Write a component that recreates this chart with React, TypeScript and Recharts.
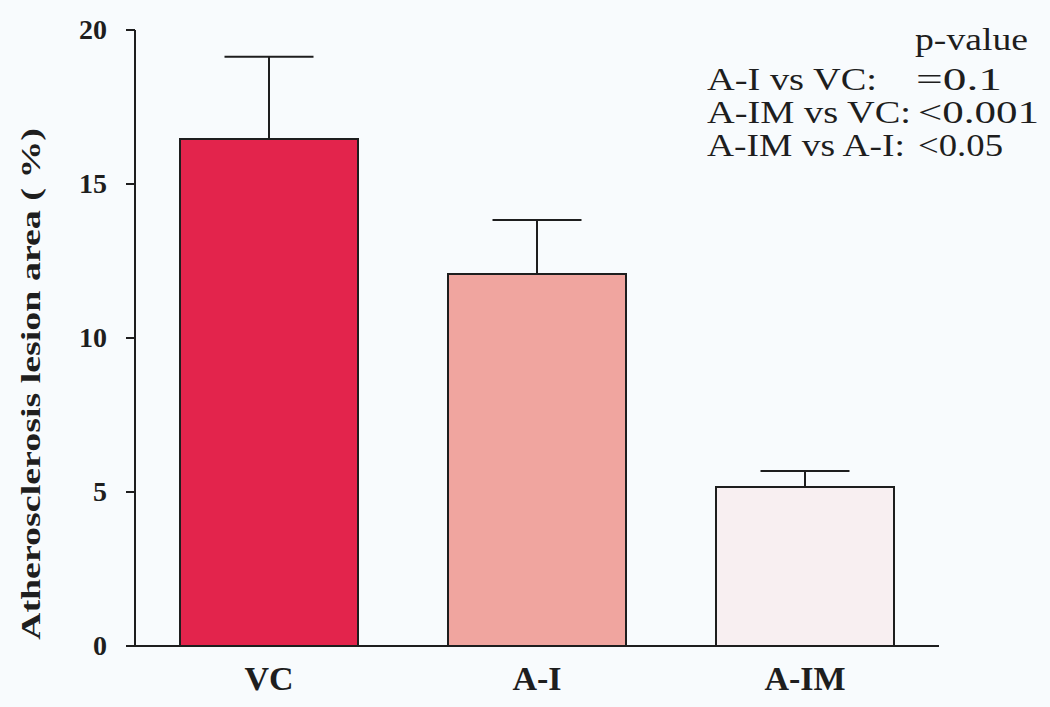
import React from 'react';
import { BarChart, Bar, XAxis, YAxis, ErrorBar, Cell } from 'recharts';

const categories = ['VC', 'A-I', 'A-IM'];
const means = [16.46, 12.08, 5.16];
const upperErrors = [2.67, 1.75, 0.52];
const barColors = ['#e3244c', '#f0a59f', '#f8eff1'];
const yTicks = [0, 5, 10, 15, 20];
const pHeader = 'p-value';
const pComparisons = ['A-I vs VC:', 'A-IM vs VC:', 'A-IM vs A-I:'];
const pValues = ['=0.1', '<0.001', '<0.05'];
const yLabel = 'Atherosclerosis lesion area ( %)';

const data = categories.map((c, i) => ({ name: c, value: means[i], err: [0, upperErrors[i]] }));

const FONT = '"Liberation Serif", "Times New Roman", serif';
const INK = '#1e1e1e';

// text widths measured in the reference (layout only)
const compWidths = [170, 204, 198];
const valueWidths = [86, 121, 85];
const valueX = [916, 918, 918];

const YTick = (props: any) => {
  const { x, y, payload } = props;
  return (
    <text x={x} y={y + 3} textAnchor="end" dominantBaseline="middle" fontFamily={FONT} fontWeight="bold" fontSize={28} fill={INK}>
      {payload.value}
    </text>
  );
};

const XTick = (props: any) => {
  const { x, payload } = props;
  return (
    <text x={x} y={690} textAnchor="middle" fontFamily={FONT} fontWeight="bold" fontSize={34} fill={INK}>
      {payload.value}
    </text>
  );
};

const YLabel = () => (
  <text
    x={0}
    y={0}
    transform="translate(40,384) rotate(-90)"
    textAnchor="middle"
    fontFamily={FONT}
    fontWeight="bold"
    fontSize={28}
    fill={INK}
    textLength={512}
    lengthAdjust="spacingAndGlyphs"
  >
    {yLabel}
  </text>
);

export default function App() {
  return (
    <div style={{ position: 'absolute', left: 0, top: 0, width: 1050, height: 707, background: '#f8fbfd' }}>
      <BarChart
        width={1050}
        height={707}
        data={data}
        margin={{ top: 30, right: 111, bottom: 21, left: 75 }}
      >
        <XAxis
          dataKey="name"
          height={40}
          tickLine={false}
          axisLine={{ stroke: INK, strokeWidth: 2 }}
          tick={<XTick />}
          interval={0}
        />
        <YAxis
          width={60}
          domain={[0, 20]}
          ticks={yTicks}
          tickSize={9}
          tickMargin={19}
          axisLine={{ stroke: INK, strokeWidth: 2 }}
          tickLine={{ stroke: INK, strokeWidth: 2 }}
          tick={<YTick />}
          label={<YLabel />}
        />
        <Bar dataKey="value" barSize={178} stroke={INK} strokeWidth={2} isAnimationActive={false}>
          {data.map((d, i) => (
            <Cell key={d.name} fill={barColors[i]} />
          ))}
          <ErrorBar dataKey="err" direction="y" width={44.5} stroke={INK} strokeWidth={2} isAnimationActive={false} />
        </Bar>
      </BarChart>
      <svg width={1050} height={707} style={{ position: 'absolute', left: 0, top: 0, pointerEvents: 'none' }}>
        <text x={915} y={50} fontFamily={FONT} fontSize={31} fill={INK} textLength={113} lengthAdjust="spacingAndGlyphs">{pHeader}</text>
        {pComparisons.map((c, i) => (
          <text key={c} x={707} y={90 + i * 33} fontFamily={FONT} fontSize={31} fill={INK} textLength={compWidths[i]} lengthAdjust="spacingAndGlyphs">{c}</text>
        ))}
        {pValues.map((v, i) => (
          <text key={v} x={valueX[i]} y={90 + i * 33} fontFamily={FONT} fontSize={31} fill={INK} textLength={valueWidths[i]} lengthAdjust="spacingAndGlyphs">{v}</text>
        ))}
      </svg>
    </div>
  );
}
